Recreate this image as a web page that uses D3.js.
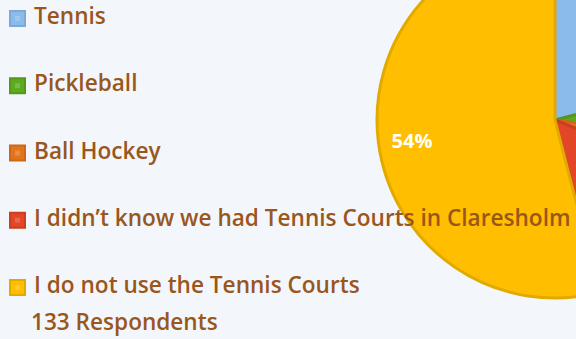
<!DOCTYPE html>
<html>
<head>
<meta charset="utf-8">
<script src="https://cdn.jsdelivr.net/npm/d3@7"></script>
<style>
  html, body { margin: 0; padding: 0; background: #F3F7FB; }
  svg { display: block; }
</style>
</head>
<body>
<svg id="chart" width="576" height="339"></svg>
<script>
// Survey answers and their share of 133 respondents (percent)
const categories = [
  "Tennis",
  "Pickleball",
  "Ball Hockey",
  "I didn\u2019t know we had Tennis Courts in Claresholm",
  "I do not use the Tennis Courts"
];
const shares = [21, 6, 4, 15, 54];
const fillColors   = ["#8BBBEA", "#5EAA1F", "#E2751C", "#E24626", "#FFBF00"];
const strokeColors = ["#7EA9D4", "#53981B", "#CC6818", "#CB3E22", "#E2AA00"];
const respondentsNote = "133 Respondents";

const svg = d3.select("#chart");
const W = 576, H = 339;
const font = "'Open Sans', 'DejaVu Sans', sans-serif";
const textColor = "#9A561B";

// ---- Pie ----
const cx = 555, cy = 120, radius = 178;
const pie = d3.pie().sort(null).value(d => d)(shares);
const arc = d3.arc().innerRadius(0).outerRadius(radius);
const labelArc = d3.arc().innerRadius(radius * 0.81).outerRadius(radius * 0.81);

const g = svg.append("g").attr("transform", `translate(${cx},${cy})`);
g.selectAll("path.slice")
  .data(pie)
  .join("path")
  .attr("class", "slice")
  .attr("d", arc)
  .attr("fill", (d, i) => fillColors[i])
  .attr("stroke", (d, i) => strokeColors[i])
  .attr("stroke-width", 3)
  .attr("stroke-linejoin", "round");

// percentage labels sit at the slice centroids; only those inside the canvas are drawn
const visibleLabels = pie.filter(d => {
  const [x, y] = labelArc.centroid(d);
  return cx + x + 25 < W && cy + y > 0 && cy + y < H;
});
g.selectAll("text.pct")
  .data(visibleLabels)
  .join("text")
  .attr("class", "pct")
  .attr("transform", d => `translate(${labelArc.centroid(d)})`)
  .attr("text-anchor", "middle")
  .attr("dy", "0.5em")
  .attr("fill", "#FFFFFF")
  .attr("font-family", font)
  .attr("font-weight", 700)
  .attr("font-size", 20)
  .text(d => d.data + "%");

// ---- Legend ----
const legendY = d3.scalePoint().domain(d3.range(categories.length)).range([10, 279]);
const sq = 17;
const legend = svg.append("g");
const items = legend.selectAll("g.item")
  .data(categories)
  .join("g")
  .attr("class", "item")
  .attr("transform", (d, i) => `translate(9,${legendY(i)})`);

items.append("rect")
  .attr("width", sq).attr("height", sq)
  .attr("fill", (d, i) => strokeColors[i]);
items.append("rect")
  .attr("x", 2).attr("y", 2)
  .attr("width", sq - 4).attr("height", sq - 4)
  .attr("fill", (d, i) => fillColors[i]);
items.append("rect")
  .attr("x", 6).attr("y", 6)
  .attr("width", sq - 12).attr("height", sq - 12)
  .attr("fill", "#FFFFFF").attr("opacity", 0.18);

items.append("text")
  .attr("x", 25)
  .attr("y", sq - 3)
  .attr("fill", textColor)
  .attr("font-family", font)
  .attr("font-weight", 600)
  .attr("font-size", 22.6)
  .text(d => d);

svg.append("text")
  .attr("x", 31)
  .attr("y", 330)
  .attr("fill", textColor)
  .attr("font-family", font)
  .attr("font-weight", 600)
  .attr("font-size", 22.6)
  .text(respondentsNote);
</script>
</body>
</html>
